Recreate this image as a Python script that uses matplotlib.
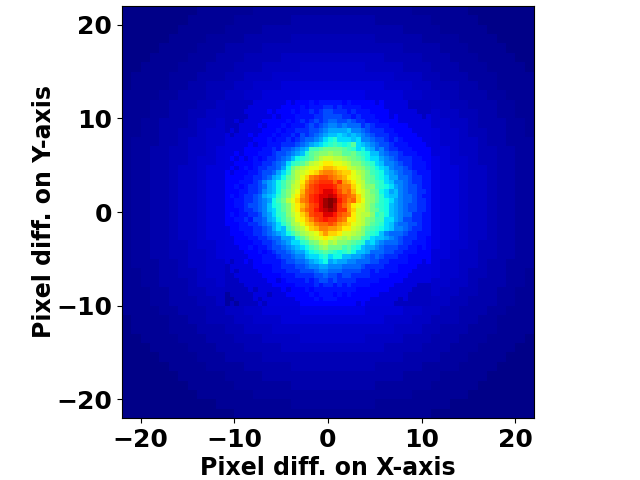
import numpy as np
import matplotlib
matplotlib.use("Agg")
import matplotlib.pyplot as plt

x_ticks = [-20, -10, 0, 10, 20]
y_ticks = [-20, -10, 0, 10, 20]
x_label = "Pixel diff. on X-axis"
y_label = "Pixel diff. on Y-axis"

# Outer field: 1x1 cells, percent of the colour scale, top row first
outer_rows = [
    "1111111122222233333333" + "3333333332222221111111",
    "1111111222223333334444" + "4444433333322222111111",
    "1111112222233334444444" + "4444444433332222211111",
    "1111122223333444445555" + "5555544444333322221111",
    "1111222233344445555555" + "5555555544443332222111",
    "1112222333444555566666" + "6666665555444333222211",
    "1122223334445556666777" + "7777666655544433322221",
    "1222233344455666777777" + "7777777666554443332222",
    "1222233445556677788888" + "8888887776655544332222",
    "2222334445566778888999" + "9999888877665544433222",
    "2223344455667788899999" + "9999998887766554443322",
    "2223344556677889999999" + "9999999988776655443322",
    "2233444566778899999999" + "9999999998877665444332",
    "2233445567788999999999" + "9999999999887765544332",
    "2333445667789999999999" + "9999999999987766544333",
    "2334455667889999999999" + "9999999999988766554433",
    "2334455677899999999999" + "9999999999998776554433",
    "2334456678899999999999" + "9999999999998876654433",
    "2334456678899999999999" + "9999999999998876654433",
    "2334456678899999999999" + "9999999999998876654433",
    "2334456678899999999999" + "9999999999998876654433",
    "2334456678899999999999" + "9999999999998876654433",
    "2334456678899999999999" + "9999999999998876654433",
    "2334456678899999999999" + "9999999999998876654433",
    "2334456678899999999999" + "9999999999998876654433",
    "2334455677899999999999" + "9999999999998776554433",
    "2334455667889999999999" + "9999999999988766554433",
    "2333445667789999999999" + "9999999999987766544333",
    "2233445567788999999999" + "9999999999887765544332",
    "2233444566778899999999" + "9999999998877665444332",
    "2223344556677889999999" + "9999999988776655443322",
    "2223344455667788899999" + "9999998887766554443322",
    "2222334445566778888999" + "9999888877665544433222",
    "1222233445556677788888" + "8888887776655544332222",
    "1222233344455666777777" + "7777777666554443332222",
    "1122223334445556666777" + "7777666655544433322221",
    "1112222333444555566666" + "6666665555444333222211",
    "1111222233344445555555" + "5555555544443332222111",
    "1111122223333444445555" + "5555544444333322221111",
    "1111112222233334444444" + "4444444433332222211111",
    "1111111222223333334444" + "4444433333322222111111",
    "1111111122222233333333" + "3333333332222221111111",
    "1111111111222222223333" + "3333322222222111111111",
    "1111111111112222222222" + "2222222222211111111111",
]

# Central field: 0.5x0.5 cells on a 0-35 colour scale
inner_top_left = [
    [2,2,2,2,2,2,3,3,3,3,3,3,3,4,3,4,4,4,5,4,5,5],
    [2,2,2,2,2,3,3,3,3,3,3,3,4,4,4,4,5,4,5,5,5,6],
    [2,2,2,2,3,3,3,3,3,4,3,4,4,4,5,4,5,5,6,5,6,7],
    [2,2,2,2,2,3,3,3,3,3,4,3,4,4,4,5,5,5,5,6,6,7],
    [2,2,3,2,3,3,3,3,4,4,4,4,4,5,4,5,6,5,6,7,6,7],
    [2,2,2,3,3,3,3,4,3,4,4,4,5,4,5,5,5,6,7,6,7,8],
    [2,3,2,3,3,3,3,3,4,4,4,5,4,5,5,6,6,6,7,7,8,9],
    [3,2,3,3,3,4,3,4,4,4,5,4,5,5,6,5,7,6,7,8,9,10],
    [3,3,3,3,3,3,4,4,4,5,4,5,5,6,5,6,7,8,8,9,10,12],
    [3,3,3,3,3,4,3,4,4,5,5,5,6,6,6,7,8,9,10,11,12,13],
    [3,3,3,3,4,4,4,4,5,5,6,5,7,7,8,9,10,11,15,15,16,17],
    [3,3,4,3,4,4,4,5,5,5,6,7,7,8,9,10,11,14,16,17,18,18],
    [3,4,3,4,3,4,5,4,5,6,6,7,8,9,11,13,14,15,16,18,20,21],
    [3,3,4,4,4,4,5,5,6,6,7,8,9,12,14,15,16,18,20,21,22,23],
    [3,4,3,4,5,4,5,6,6,7,7,8,10,13,17,19,20,21,22,22,23,25],
    [4,3,4,4,4,5,5,6,7,7,8,10,12,14,18,20,21,22,23,24,26,27],
    [4,4,4,4,5,5,6,6,7,8,10,11,13,16,18,20,22,24,27,28,29,29],
    [4,4,4,5,5,5,6,7,9,10,11,13,15,17,19,21,23,26,28,29,30,30],
    [4,4,5,4,5,6,6,7,8,10,11,13,15,17,20,21,24,27,29,30,31,31],
    [4,4,4,5,5,6,6,7,9,10,11,13,16,18,20,22,25,28,29,30,31,32],
    [4,5,4,5,6,6,7,8,10,11,12,14,16,18,21,23,26,28,30,31,32,32],
    [4,4,5,5,6,6,7,8,9,10,13,15,17,20,22,24,27,28,30,31,32,34],
]
inner_top_right = [
    [5,5,5,4,5,4,4,4,4,4,3,4,3,3,3,3,3,2,2,2,2,2],
    [6,5,6,5,5,5,5,4,4,4,4,4,3,3,3,3,3,2,2,2,2,2],
    [7,6,6,6,5,6,5,5,5,4,4,4,4,3,3,3,3,3,3,2,2,2],
    [7,7,7,6,6,5,6,5,5,5,4,4,4,3,4,3,3,3,3,3,2,3],
    [8,8,7,7,8,7,6,6,5,5,5,4,4,4,4,3,3,3,3,3,3,3],
    [9,9,8,9,8,8,8,6,7,6,5,5,5,4,4,4,4,3,3,3,3,3],
    [10,10,10,10,11,9,9,8,7,6,6,6,5,5,4,4,4,4,3,3,3,3],
    [11,11,12,11,10,11,10,9,8,7,6,6,6,5,5,4,4,4,4,3,3,3],
    [13,14,12,12,12,11,12,9,9,8,7,7,6,5,6,5,4,4,4,4,3,3],
    [14,15,14,13,14,16,12,11,10,9,8,7,7,6,5,5,5,4,4,4,4,3],
    [17,17,17,16,15,14,12,13,11,10,8,9,7,6,6,5,5,5,4,4,4,4],
    [19,18,18,16,16,17,15,14,13,11,11,9,8,7,7,6,5,5,5,4,4,4],
    [21,20,20,19,18,17,16,15,13,12,12,10,9,8,7,6,6,6,5,5,4,4],
    [23,22,22,21,20,18,18,16,15,14,12,11,9,9,8,7,6,6,5,5,5,4],
    [25,24,23,23,21,20,19,18,16,15,13,12,11,9,8,8,7,6,5,5,5,4],
    [27,26,25,24,24,22,20,19,17,15,14,13,11,10,9,8,7,7,6,5,5,5],
    [28,27,26,25,23,22,21,19,17,16,14,13,12,10,10,8,8,7,6,6,5,5],
    [30,28,30,26,25,23,21,20,17,16,15,14,12,11,9,9,8,7,6,6,5,5],
    [31,30,28,27,27,24,22,20,18,18,15,14,13,12,10,9,8,7,7,6,5,5],
    [32,31,29,27,28,25,22,21,19,17,16,13,12,10,11,9,8,7,7,6,6,5],
    [33,32,30,29,28,27,24,21,19,18,16,14,12,11,11,9,8,8,7,6,5,5],
    [35,34,31,29,27,28,24,22,19,18,16,14,13,12,10,9,8,8,7,6,6,5],
]
inner_bottom_left = [
    [4,4,5,5,6,7,7,8,9,11,13,14,16,18,21,23,25,27,29,30,32,34],
    [4,4,4,5,6,6,7,8,9,11,12,14,16,18,21,23,26,28,29,31,32,33],
    [4,5,4,5,5,6,6,7,9,10,12,14,15,18,20,22,24,26,29,30,30,32],
    [4,4,5,5,6,5,7,7,8,10,11,13,15,17,19,22,23,25,27,29,30,31],
    [4,4,4,5,5,6,6,7,8,9,10,12,14,16,19,20,22,24,25,27,28,28],
    [3,4,4,5,5,5,6,6,7,8,10,12,11,15,17,19,20,22,24,25,27,27],
    [3,4,4,4,5,5,6,6,7,8,9,10,11,13,15,17,19,20,21,22,24,26],
    [3,3,4,4,4,5,5,6,6,7,8,8,10,10,11,14,16,18,20,21,22,23],
    [3,3,4,4,4,4,5,5,6,6,7,8,9,10,12,12,14,15,17,18,20,21],
    [3,3,3,4,4,5,4,5,5,6,7,7,8,9,10,11,12,13,15,16,18,19],
    [3,3,3,3,4,4,4,5,4,5,6,7,7,8,9,10,10,12,13,14,15,16],
    [3,3,3,3,3,4,4,4,5,5,5,6,7,7,8,9,9,11,12,12,13,14],
    [3,2,3,3,4,3,4,4,5,5,5,5,6,7,7,8,8,9,10,11,12,13],
    [2,3,3,3,3,3,4,4,4,4,5,5,6,6,6,7,7,8,9,9,10,10],
    [2,3,2,3,3,3,3,4,4,4,5,5,5,6,6,6,7,7,7,8,9,9],
    [2,2,3,3,3,3,3,3,4,4,4,4,5,5,5,6,6,6,6,7,7,8],
    [2,2,2,3,3,3,3,3,3,4,4,3,4,5,5,5,5,6,5,6,7,7],
    [2,2,2,2,3,3,3,3,3,3,4,4,4,4,4,5,5,5,5,6,5,6],
    [2,2,2,2,2,3,2,3,3,3,3,3,4,3,4,4,4,5,4,5,5,5],
    [1,2,2,2,2,2,3,3,3,2,3,3,3,4,4,4,4,4,5,4,5,5],
    [1,1,2,2,2,2,3,2,3,3,3,3,3,3,3,4,4,4,4,5,4,5],
    [1,2,1,2,2,2,2,3,2,3,3,3,3,3,3,3,4,4,4,4,4,4],
]
inner_bottom_right = [
    [35,33,30,28,26,23,22,21,19,17,15,14,13,11,10,9,8,7,7,6,6,5],
    [34,33,30,30,26,24,21,21,19,17,16,14,13,11,10,9,8,7,7,6,6,5],
    [32,31,29,28,27,23,21,20,20,18,14,15,13,11,10,9,8,8,6,6,5,5],
    [30,30,28,27,23,23,21,20,18,17,15,15,12,12,10,9,7,7,6,6,5,5],
    [29,28,26,25,24,22,21,20,18,16,15,14,12,11,9,8,8,7,7,6,5,5],
    [26,26,25,23,23,21,20,18,16,15,14,13,12,11,9,9,8,7,6,6,5,5],
    [24,24,23,21,21,20,19,18,15,14,13,11,9,8,8,8,7,6,6,5,5,5],
    [22,21,20,19,20,18,18,15,14,12,11,11,10,9,8,7,6,6,6,5,5,4],
    [19,20,18,18,17,16,15,14,11,12,10,9,8,8,8,7,6,6,5,5,5,4],
    [17,17,17,15,16,14,13,11,10,10,9,8,7,7,7,6,6,5,5,4,5,4],
    [15,14,13,14,15,13,11,11,10,8,8,8,7,7,6,6,5,5,5,4,4,4],
    [12,13,13,11,11,10,10,9,8,7,8,7,6,6,6,5,5,4,4,4,4,4],
    [10,11,10,10,9,9,8,8,8,7,7,6,6,5,5,5,5,4,4,4,3,4],
    [9,9,9,8,8,8,8,7,6,6,6,6,5,5,5,4,4,4,4,3,3,3],
    [8,8,8,7,7,7,7,6,6,5,6,5,5,5,5,4,4,4,3,3,3,3],
    [7,7,6,7,7,6,6,6,6,5,5,5,5,4,4,4,4,3,3,3,3,3],
    [6,7,6,6,6,6,5,5,5,5,5,4,4,4,4,4,3,3,3,3,3,3],
    [6,5,6,5,6,5,5,5,5,4,4,4,4,4,3,3,3,3,3,2,2,2],
    [5,5,5,5,5,5,4,4,4,4,4,4,4,3,3,3,3,3,2,2,2,2],
    [5,4,5,4,5,4,4,4,4,4,4,3,3,3,3,3,3,2,2,2,2,2],
    [5,5,4,4,4,4,4,4,4,3,3,3,3,3,3,2,3,2,2,2,2,2],
    [4,4,4,4,4,4,3,4,3,3,3,3,3,3,2,2,2,2,2,2,2,2],
]

outer = np.array([[int(c) for c in row] for row in outer_rows], dtype=float)
inner = np.vstack([
    np.hstack([inner_top_left, inner_top_right]),
    np.hstack([inner_bottom_left, inner_bottom_right]),
]).astype(float)

fig = plt.figure(figsize=(6.4, 4.8), dpi=100)
ax = fig.add_axes([122 / 640, 62 / 480, 412 / 640, 412 / 480])
ax.imshow(outer, cmap="jet", vmin=0, vmax=100, extent=[-22, 22, -22, 22],
          interpolation="nearest", aspect="auto")
ax.imshow(inner, cmap="jet", vmin=0, vmax=35, extent=[-11, 11, -10, 12],
          interpolation="nearest", aspect="auto")
ax.set_xlim(-22, 22)
ax.set_ylim(-22, 22)
ax.set_xticks(x_ticks)
ax.set_yticks(y_ticks)
ax.tick_params(labelsize=18)
for t in ax.get_xticklabels() + ax.get_yticklabels():
    t.set_fontweight("bold")
ax.set_xlabel(x_label, fontsize=17, fontweight="bold", labelpad=3)
ax.set_ylabel(y_label, fontsize=17, fontweight="bold", labelpad=0.4)
fig.savefig("out.png", dpi=100)
